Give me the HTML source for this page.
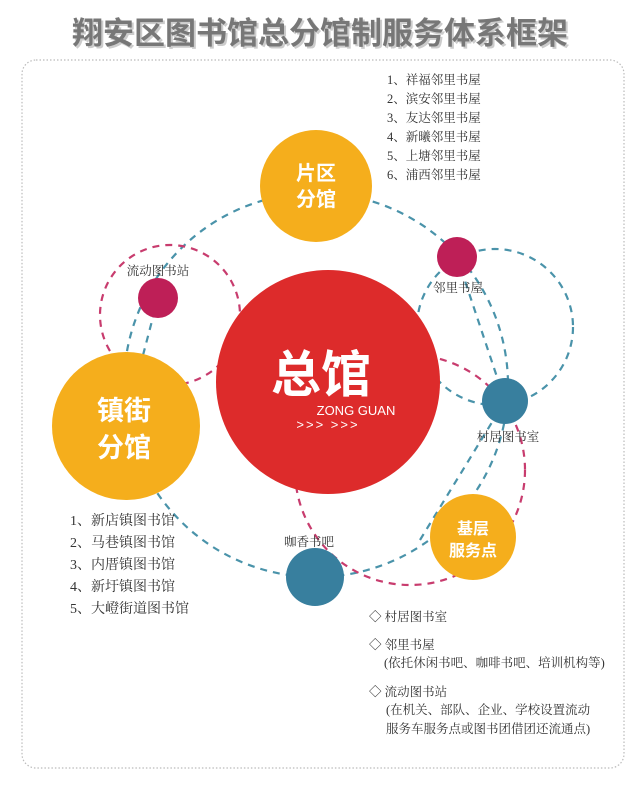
<!DOCTYPE html>
<html><head><meta charset="utf-8"><style>
body{margin:0;width:640px;height:785px;background:#fff;overflow:hidden}
svg{display:block}
.t{font-family:"Liberation Serif","Noto Serif CJK SC",serif;fill:#333;font-size:12.5px}
.w{font-family:"Liberation Sans","Noto Sans CJK SC",sans-serif;fill:#fff;font-weight:bold}
</style></head><body>
<svg width="640" height="785" viewBox="0 0 640 785">
<text x="320" y="44" text-anchor="middle" font-family="'Noto Sans CJK SC',sans-serif" font-size="31" font-weight="bold" fill="#ccc" transform="translate(2,2)">翔安区图书馆总分馆制服务体系框架</text>
<text x="320" y="44" text-anchor="middle" font-family="'Noto Sans CJK SC',sans-serif" font-size="31" font-weight="bold" fill="#777">翔安区图书馆总分馆制服务体系框架</text>
<rect x="22" y="60" width="602" height="708" rx="14" fill="none" stroke="#bbb" stroke-width="1.2" stroke-dasharray="1.5,2"/>
<g fill="none" stroke-width="2.2" stroke-dasharray="7,6">
<circle cx="316" cy="385" r="192" stroke="#4a93aa"/>
<circle cx="495" cy="327" r="78" stroke="#4a93aa"/>
<circle cx="170" cy="315" r="70" stroke="#c83c6e"/>
<circle cx="410" cy="470" r="115" stroke="#c83c6e"/>
<line x1="158" y1="298" x2="126" y2="420" stroke="#4a93aa"/>
<line x1="457" y1="257" x2="505" y2="401" stroke="#4a93aa"/>
<line x1="505" y1="401" x2="420" y2="540" stroke="#4a93aa"/>
</g>
<circle cx="328" cy="382" r="112" fill="#dd2b2b"/>
<circle cx="316" cy="186" r="56" fill="#f5ae1c"/>
<circle cx="126" cy="426" r="74" fill="#f5ae1c"/>
<circle cx="473" cy="537" r="43" fill="#f5ae1c"/>
<circle cx="158" cy="298" r="20" fill="#be1f57"/>
<circle cx="457" cy="257" r="20" fill="#be1f57"/>
<circle cx="505" cy="401" r="23" fill="#387f9e"/>
<circle cx="315" cy="577" r="29" fill="#387f9e"/>
<text class="w" x="321" y="392" font-size="50" text-anchor="middle">总馆</text>
<text x="356" y="415" font-family="'Liberation Sans',sans-serif" font-size="13" fill="#fff" text-anchor="middle">ZONG GUAN</text>
<text x="328" y="429" font-family="'Liberation Sans',sans-serif" font-size="13" fill="#fff" text-anchor="middle" letter-spacing="2">&gt;&gt;&gt; &gt;&gt;&gt;</text>
<text class="w" x="316" y="180" font-size="20" text-anchor="middle">片区</text>
<text class="w" x="316" y="206" font-size="20" text-anchor="middle">分馆</text>
<text class="w" x="124" y="420" font-size="27" text-anchor="middle">镇街</text>
<text class="w" x="124" y="457" font-size="27" text-anchor="middle">分馆</text>
<text class="w" x="473" y="534" font-size="16" text-anchor="middle">基层</text>
<text class="w" x="473" y="556" font-size="16" text-anchor="middle">服务点</text>
<text class="t" x="158" y="275" text-anchor="middle" font-size="11.5">流动图书站</text>
<text class="t" x="458" y="292" text-anchor="middle" font-size="11.5">邻里书屋</text>
<text class="t" x="508" y="441" text-anchor="middle" font-size="11.5">村居图书室</text>
<text class="t" x="309" y="546" text-anchor="middle" font-size="11.5">咖香书吧</text>
<g class="t">
<text x="387" y="84">1、祥福邻里书屋</text>
<text x="387" y="103">2、滨安邻里书屋</text>
<text x="387" y="122">3、友达邻里书屋</text>
<text x="387" y="141">4、新曦邻里书屋</text>
<text x="387" y="160">5、上塘邻里书屋</text>
<text x="387" y="179">6、浦西邻里书屋</text>
</g>
<g class="t">
<text x="70" y="525" font-size="14">1、新店镇图书馆</text>
<text x="70" y="547" font-size="14">2、马巷镇图书馆</text>
<text x="70" y="569" font-size="14">3、内厝镇图书馆</text>
<text x="70" y="591" font-size="14">4、新圩镇图书馆</text>
<text x="70" y="613" font-size="14">5、大嶝街道图书馆</text>
</g>
<g class="t">
<text x="369" y="621">◇ 村居图书室</text>
<text x="369" y="649">◇ 邻里书屋</text>
<text x="384" y="667">(依托休闲书吧、咖啡书吧、培训机构等)</text>
<text x="369" y="696">◇ 流动图书站</text>
<text x="386" y="714">(在机关、部队、企业、学校设置流动</text>
<text x="386" y="733">服务车服务点或图书团借团还流通点)</text>
</g>
</svg>
</body></html>
